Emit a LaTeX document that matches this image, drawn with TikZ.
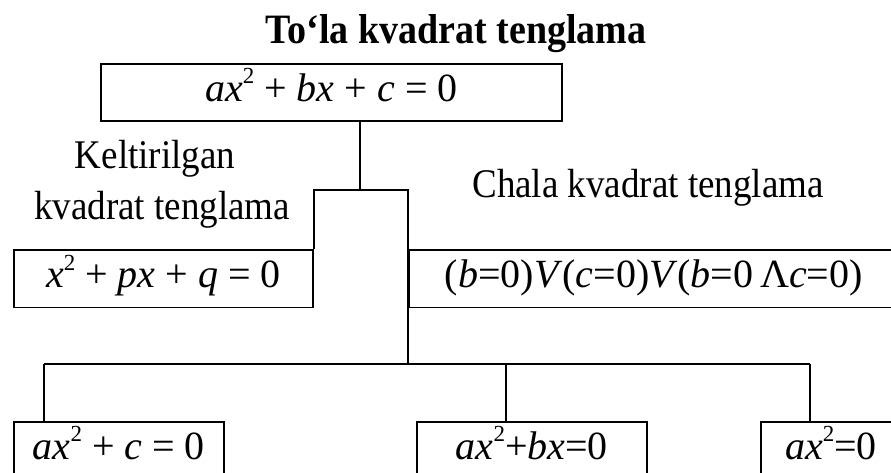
\documentclass[tikz,border=0pt]{standalone}
\usepackage{graphicx}
\usepackage{fontspec}
\setmainfont{Liberation Serif}
\newcommand\mi[1]{\textit{#1}}
\newcommand\sq{\raisebox{0.43em}{\fontsize{23}{23}\selectfont 2}}
\newcommand\tall[1]{\scalebox{1}[1.1]{#1}}
\newcommand\eqfont{\fontsize{40}{44}\selectfont}
\newcommand\lblfont{\fontsize{37}{41}\selectfont}
\begin{document}
\begin{tikzpicture}[x=1pt,y=-1pt,
  box/.style={draw, line width=1.8pt, inner sep=0pt, minimum height=57.5pt,
    text height=27.5pt, text depth=10pt, font=\eqfont, anchor=north west},
  conn/.style={line width=1.5pt},
  lbl/.style={font=\lblfont, inner sep=0pt, anchor=base}]
\useasboundingbox (0,0) rectangle (891,472);
% labels
\node[lbl, font=\fontsize{38}{42}\selectfont\bfseries] (title) at (456,43) {\tall{To‘la kvadrat tenglama}};
\node[lbl] (k1) at (155,168) {\tall{Keltirilgan}};
\node[lbl] (k2) at (162,219) {\tall{kvadrat tenglama}};
\node[lbl] (ch) at (648,197) {\tall{Chala kvadrat tenglama}};
% boxes
\node[box, minimum width=461pt] (A) at (100,62.7) {\mi{ax}\sq{} + \mi{bx} + \mi{c} = 0};
\node[box, minimum width=299pt] (B) at (13,249) {\mi{x}\sq{} + \mi{px} + \mi{q} = 0};
\node[box, minimum width=490pt] (C) at (408,249) {(\mi{b}=0)\mi{V}(\mi{c}=0)\mi{V}(\mi{b}=0\,Λ\mi{c}=0)};
\node[box, minimum width=210pt] (D) at (13,420.7) {\mi{ax}\sq{} + \mi{c} = 0};
\node[box, minimum width=230pt] (E) at (416,420.7) {\mi{ax}\sq{}+\mi{bx}=0};
\node[box, minimum width=140pt] (F) at (760,420.7) {\mi{ax}\sq{}=0};
% connectors
\coordinate (t1) at (360,190);
\coordinate (j) at (408,364);
\coordinate (h1) at (44,364);
\coordinate (h2) at (506,364);
\coordinate (h3) at (810,364);
\draw[conn] (A.south -| t1) -- (t1);
\draw[conn] (B.north east) -- (B.north east |- t1) -- (C.north west |- t1) -- (C.north west) -- (j);
\draw[conn] (h1) -- (h3);
\draw[conn] (h1) -- (h1 |- D.north);
\draw[conn] (h2) -- (h2 |- E.north);
\draw[conn] (h3) -- (h3 |- F.north);
\end{tikzpicture}
\end{document}
